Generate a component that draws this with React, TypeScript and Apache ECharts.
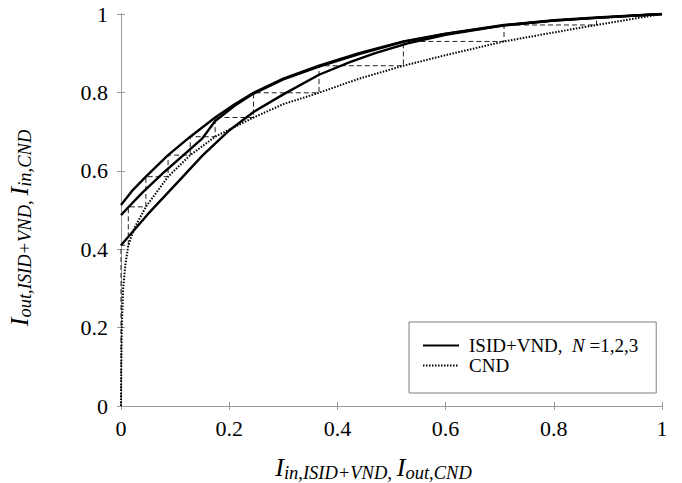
import React, { useEffect, useRef } from "react";
import * as echarts from "echarts";

// ISID+VND transfer curves (x = I_in,ISID+VND, y = I_out,ISID+VND)
const isidN3: [number, number][] = [
  [0, 0.513], [0.02, 0.548], [0.046, 0.585], [0.087, 0.64], [0.128, 0.687],
  [0.174, 0.736], [0.21, 0.77], [0.245, 0.799], [0.3, 0.835], [0.366, 0.868],
  [0.44, 0.9], [0.522, 0.93], [0.6, 0.95], [0.708, 0.972], [0.8, 0.984],
  [0.879, 0.991], [1, 1],
];
const isidN2: [number, number][] = [
  [0, 0.487], [0.0135, 0.507], [0.04, 0.545], [0.08, 0.597], [0.118, 0.643],
  [0.15, 0.682], [0.174, 0.727], [0.21, 0.766], [0.245, 0.797], [0.3, 0.833],
  [0.366, 0.866], [0.44, 0.898], [0.522, 0.929], [0.6, 0.949], [0.708, 0.971],
  [0.8, 0.983], [0.879, 0.99], [1, 1],
];
const isidN1: [number, number][] = [
  [0, 0.41], [0.05, 0.49], [0.111, 0.58], [0.15, 0.638], [0.2, 0.703],
  [0.245, 0.75], [0.3, 0.795], [0.366, 0.845], [0.423, 0.877], [0.47, 0.9],
  [0.53, 0.925], [0.6, 0.947], [0.708, 0.971], [0.8, 0.983], [0.879, 0.99], [1, 1],
];
// CND curve (x = I_out,CND, y = I_in,CND)
const cnd: [number, number][] = [
  [0, 0], [0.0005, 0.1], [0.0015, 0.2], [0.004, 0.3], [0.008, 0.36], [0.0135, 0.41],
  [0.025, 0.455], [0.046, 0.508], [0.087, 0.585], [0.128, 0.64], [0.174, 0.687],
  [0.245, 0.736], [0.3, 0.77], [0.366, 0.799], [0.44, 0.835], [0.522, 0.868],
  [0.6, 0.895], [0.708, 0.93], [0.8, 0.953], [0.879, 0.972], [1, 1],
];
// decoding trajectory (staircase)
const trajectory: [number, number][] = [
  [0, 0], [0, 0.41], [0.0135, 0.41], [0.0135, 0.508], [0.046, 0.508], [0.046, 0.585],
  [0.087, 0.585], [0.087, 0.64], [0.128, 0.64], [0.128, 0.687], [0.174, 0.687],
  [0.174, 0.736], [0.245, 0.736], [0.245, 0.799], [0.366, 0.799], [0.366, 0.868],
  [0.522, 0.868], [0.522, 0.93], [0.708, 0.93], [0.708, 0.972], [0.879, 0.972],
  [0.879, 0.99],
];
const axisTicks = [0, 0.2, 0.4, 0.6, 0.8, 1];

const SERIF = "'Liberation Serif', 'DejaVu Serif', serif";
const AXIS_COLOR = "#9a9a9a";

const rich = {
  I: { fontSize: 26, fontStyle: "italic", fontFamily: SERIF, color: "#000", lineHeight: 28, verticalAlign: "top" },
  s: { fontSize: 18.5, fontStyle: "italic", fontFamily: SERIF, color: "#000", lineHeight: 14, verticalAlign: "bottom" },
  c: { fontSize: 19, fontFamily: SERIF, color: "#000", lineHeight: 14, verticalAlign: "bottom" },
};

export default function App() {
  const ref = useRef<HTMLDivElement>(null);
  useEffect(() => {
    if (!ref.current) return;
    const chart = echarts.init(ref.current, undefined, { renderer: "svg" });
    const labelFmt = (v: number) => {
      const t = axisTicks.find((a) => Math.abs(a - v) < 1e-9);
      const val = t === undefined ? v : t;
      return val === 0 || val === 1 ? String(val) : val.toFixed(1);
    };
    const baseAxis = {
      type: "value" as const,
      min: 0,
      max: 1,
      interval: 0.2,
      axisLine: { show: true, lineStyle: { color: AXIS_COLOR, width: 1 } },
      axisTick: { show: true, inside: true, length: 4, lineStyle: { color: AXIS_COLOR } },
      splitLine: { show: false },
    };
    chart.setOption({
      animation: false,
      backgroundColor: "#fff",
      grid: { left: 121, right: 20, top: 14, bottom: 77, containLabel: false, outerBoundsMode: "none" },
      xAxis: [
        {
          ...baseAxis,
          position: "bottom",
          axisLabel: { formatter: labelFmt, fontFamily: SERIF, fontSize: 22, color: "#000", margin: 11 },
          name: "{I|I}{s|in,ISID+VND}{c|, }{I|I}{s|out,CND}",
          nameLocation: "middle",
          nameGap: 48,
          nameTextStyle: { rich, padding: [0, 36, 0, 0] },
        },
        { ...baseAxis, position: "top", axisLabel: { show: false } },
      ],
      yAxis: [
        {
          ...baseAxis,
          position: "left",
          axisLabel: { formatter: labelFmt, fontFamily: SERIF, fontSize: 22, color: "#000", margin: 13 },
          name: "{I|I}{s|out,ISID+VND}{c|, }{I|I}{s|in,CND}",
          nameLocation: "middle",
          nameGap: 87,
          nameRotate: 90,
          nameTextStyle: { rich, padding: [0, 36, 0, 0] },
        },
        { ...baseAxis, position: "right", axisLabel: { show: false } },
      ],
      legend: {
        data: ["ISID+VND", "CND"],
        orient: "vertical",
        left: 409,
        top: 322,
        itemWidth: 36,
        itemHeight: 14,
        itemGap: 1,
        padding: [14, 18, 18, 13],
        borderColor: "#808080",
        borderWidth: 1,
        backgroundColor: "#fff",
        selectedMode: false,
        itemStyle: { opacity: 0 },
        formatter: (name: string) =>
          name === "ISID+VND" ? "{t|ISID+VND,  }{n|N}{t| =1,2,3}" : "{t|CND}",
        textStyle: {
          padding: [0, 0, 0, 5],
          rich: {
            t: { fontFamily: SERIF, fontSize: 19, color: "#000", lineHeight: 15 },
            n: { fontFamily: SERIF, fontSize: 19, fontStyle: "italic", color: "#000", lineHeight: 15 },
          },
        },
      },
      series: [
        {
          name: "ISID+VND", type: "line", data: isidN3, showSymbol: false, symbol: "none",
          smooth: false,
          lineStyle: { color: "#000", width: 2.4 }, itemStyle: { color: "#000" }, z: 3,
        },
        {
          name: "ISID+VND", type: "line", data: isidN2, showSymbol: false, symbol: "none",
          smooth: false,
          lineStyle: { color: "#000", width: 2.4 }, itemStyle: { color: "#000" }, z: 3,
        },
        {
          name: "ISID+VND", type: "line", data: isidN1, showSymbol: false, symbol: "none",
          smooth: false,
          lineStyle: { color: "#000", width: 2.4 }, itemStyle: { color: "#000" }, z: 3,
        },
        {
          name: "CND", type: "line", data: cnd, showSymbol: false, symbol: "none",
          smooth: false,
          lineStyle: { color: "#000", width: 2, type: [1.5, 1.5] }, itemStyle: { color: "#000" }, z: 2,
        },
        {
          name: "trajectory", type: "line", data: trajectory, showSymbol: false, symbol: "none",
          smooth: false,
          lineStyle: { color: "#222", width: 1, type: [5, 3] }, z: 1,
        },
      ],
    });
    return () => chart.dispose();
  }, []);
  return <div ref={ref} style={{ width: 682, height: 483, position: "absolute", left: 0, top: 0 }} />;
}
